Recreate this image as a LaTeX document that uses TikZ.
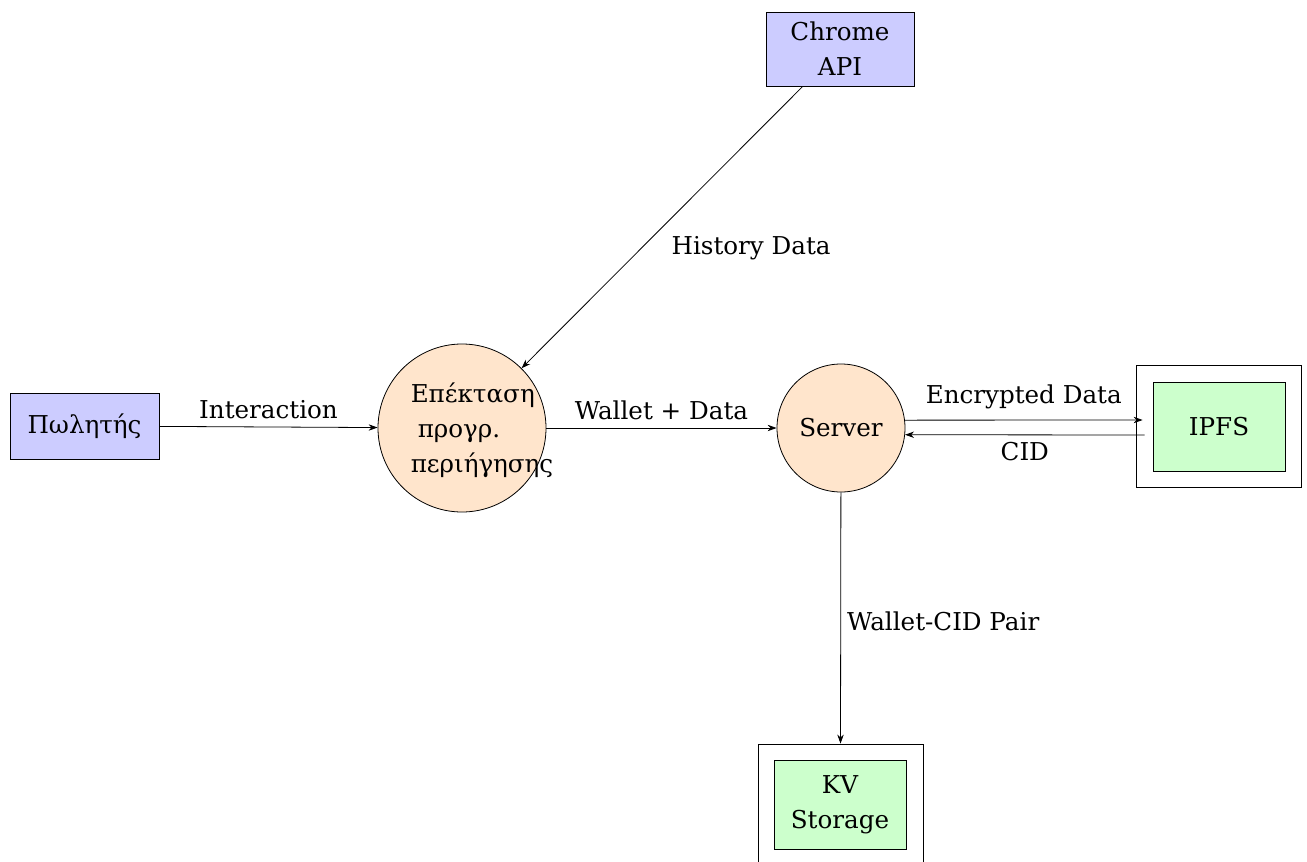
\documentclass[tikz,border=0pt]{standalone}
\usepackage{fontspec}
\setmainfont{DejaVu Serif}
\usetikzlibrary{arrows.meta,calc}

\begin{document}
\begin{tikzpicture}[
  x=0.5pt, y=-0.5pt,
  font=\fontsize{12.3}{17.5}\selectfont,
  actor/.style={draw, fill=blue!20, inner sep=0pt, align=center},
  process/.style={circle, draw, fill=orange!20, inner sep=0pt},
  store/.style={draw, fill=green!20, minimum width=66pt, minimum height=44.5pt, inner sep=0pt, align=center},
  storeframe/.style={draw, fill=white, minimum width=82.5pt, minimum height=61pt, inner sep=0pt},
  flow/.style={-{Stealth[length=4.5pt,width=3.2pt]}},
  lbl/.style={inner sep=3pt}
]
\useasboundingbox (0,0) rectangle (1307,862);

% external entities
\node[actor, minimum width=74.5pt, minimum height=33pt] (seller) at (84.5,426) {Πωλητής};
\node[actor, minimum width=74pt, minimum height=37pt] (chrome) at (840,49) {Chrome\\API};

% processes
\node[process, minimum size=84pt,
      label={[align=left, inner sep=0pt, xshift=10pt, yshift=-1pt]center:{Επέκταση\\\hspace*{3.5pt}προγρ.\\περιήγησης}}]
      (ext) at (462,428) {};
\node[process, minimum size=64pt] (server) at (841,428) {Server};

% data stores
\node[storeframe] (ipfsframe) at (1218.5,426) {};
\node[store] (ipfs) at (1219,426.5) {IPFS};
\node[storeframe] (kvframe) at (840.5,805) {};
\node[store] (kv) at (840,804.5) {KV\\Storage};

% free ends of the server/IPFS pair
\coordinate (ipfsin) at ($(ipfsframe.west)+(7,-6)$);
\coordinate (ipfsout) at ($(ipfsframe.west)+(9,9)$);

% flows
\draw[flow] (seller) -- node[lbl, above, yshift=1pt] {Interaction} (ext);
\draw[flow] (chrome) -- node[lbl, anchor=west, xshift=1.5pt, yshift=-10.5pt] {History Data} (ext);
\draw[flow] (ext) -- node[lbl, above, yshift=1pt] {Wallet + Data} (server);
\draw[flow] (server.7) -- node[lbl, above, yshift=2.5pt] {Encrypted Data} (ipfsin);
\draw[flow] (ipfsout) -- node[lbl, below, yshift=-0.5pt] {CID} (server.-6);
\draw[flow] (server) -- node[lbl, right, yshift=-1.5pt] {Wallet-CID Pair} (kvframe.north);
\end{tikzpicture}
\end{document}
